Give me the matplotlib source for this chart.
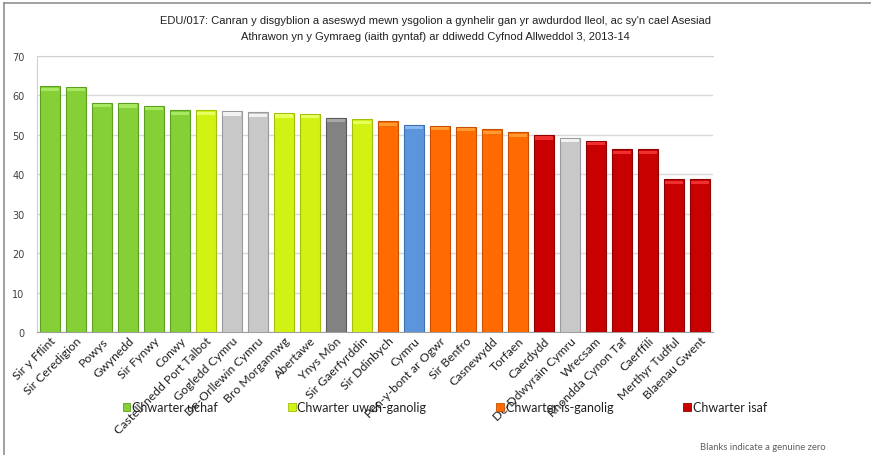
import matplotlib
matplotlib.use("Agg")
import matplotlib.pyplot as plt
from matplotlib.patches import Patch
from matplotlib.lines import Line2D
import numpy as np

categories = ["Sir y Fflint", "Sir Ceredigion", "Powys", "Gwynedd", "Sir Fynwy", "Conwy",
              "Castell-nedd Port Talbot", "Gogledd Cymru", "De-Orllewin Cymru", "Bro Morgannwg",
              "Abertawe", "Ynys Môn", "Sir Gaerfyrddin", "Sir Ddinbych", "Cymru",
              "Pen-y-bont ar Ogwr", "Sir Benfro", "Casnewydd", "Torfaen", "Caerdydd",
              "De-Ddwyrain Cymru", "Wrecsam", "Rhondda Cynon Taf", "Caerffili",
              "Merthyr Tudful", "Blaenau Gwent"]
values = [62.3, 62.2, 58.2, 58.0, 57.3, 56.2, 56.2, 56.0, 55.7, 55.5, 55.4, 54.3, 53.9,
          53.4, 52.6, 52.3, 52.0, 51.4, 50.6, 49.9, 49.2, 48.5, 46.3, 46.3, 38.7, 38.7]
groups = ["top", "top", "top", "top", "top", "top", "upmid", "region", "region", "upmid",
          "upmid", "other", "upmid", "lowmid", "wales", "lowmid", "lowmid", "lowmid",
          "lowmid", "bottom", "region", "bottom", "bottom", "bottom", "bottom", "bottom"]

colors = {"top": "#84D036", "upmid": "#D2F214", "region": "#C8C8C8", "other": "#828282",
          "lowmid": "#FF6B00", "wales": "#5B96DC", "bottom": "#C90000"}
edges = {"top": "#5E9E22", "upmid": "#A5BE0A", "region": "#9A9A9A", "other": "#5A5A5A",
         "lowmid": "#C85000", "wales": "#3D70B0", "bottom": "#900000"}
highlights = {"top": "#A8E860", "upmid": "#E8FF60", "region": "#F2F2F2", "other": "#A8A8A8",
              "lowmid": "#FF9A30", "wales": "#8AB8F0", "bottom": "#F03030"}
legend_labels = [("top", "Chwarter uchaf"), ("upmid", "Chwarter uwch-ganolig"),
                 ("lowmid", "Chwarter is-ganolig"), ("bottom", "Chwarter isaf")]

title = ("EDU/017: Canran y disgyblion a aseswyd mewn ysgolion a gynhelir gan yr awdurdod lleol, ac sy'n cael Asesiad\n"
         "Athrawon yn y Gymraeg (iaith gyntaf) ar ddiwedd Cyfnod Allweddol 3, 2013-14")

fig = plt.figure(figsize=(8.71, 4.56), dpi=100)
ax = fig.add_axes([37/871, 1-333/456, (713-37)/871, (333-57)/456])

x = np.arange(len(categories))
ax.bar(x, values, width=0.78, color=[colors[g] for g in groups],
       edgecolor=[edges[g] for g in groups], linewidth=0.8, zorder=3)
# top highlight (bevel look)
ax.bar(x, [0.8]*len(x), bottom=np.array(values)-1.1, width=0.66,
       color=[highlights[g] for g in groups], linewidth=0, zorder=4)

ax.set_xlim(-0.5, len(categories)-0.5)
ax.set_ylim(0, 70)
ax.set_yticks(range(0, 71, 10))
ax.yaxis.grid(True, color="#D9D9D9", linewidth=1.0, zorder=0)
ax.set_axisbelow(True)
ax.tick_params(axis="y", length=0, labelsize=7, labelcolor="#404040", pad=9)
ax.tick_params(axis="x", length=0, pad=2)
ax.set_xticks(x)
ax.set_xticklabels(categories, rotation=45, ha="right", rotation_mode="anchor",
                   fontsize=8.8, family="Lato", color="#202020")
for s in ["left", "top", "bottom"]:
    ax.spines[s].set_color("#D0D0D0")
ax.spines["right"].set_visible(False)
ax.spines["bottom"].set_color("#A0A0A0")

fig.text(435/871, 1-29/456, title, ha="center", va="center", fontsize=8,
         family="Liberation Sans", color="#202020", linespacing=1.85)

handles = [Patch(facecolor=colors[g], edgecolor=edges[g], linewidth=0.6) for g, _ in legend_labels]
leg = fig.legend(handles, [l for _, l in legend_labels], ncol=4, loc="center",
                 bbox_to_anchor=(445/871, 1-408/456), frameon=False,
                 prop={"family": "Lato", "size": 9},
                 handlelength=0.6, handleheight=0.6, handletextpad=0.15, columnspacing=5.6)
for t in leg.get_texts():
    t.set_color("#202020")

fig.text(700/871, 1-448/456, "Blanks indicate a genuine zero", ha="left", va="center",
         fontsize=6.8, family="Lato", color="#606060")

fig.add_artist(Line2D([4/871, 4/871], [0, 1-4/456], color="#909090", linewidth=1.2,
                      transform=fig.transFigure))
fig.add_artist(Line2D([4/871, 1], [1-4/456, 1-4/456], color="#909090", linewidth=1.2,
                      transform=fig.transFigure))

fig.savefig("out.png", dpi=100)
